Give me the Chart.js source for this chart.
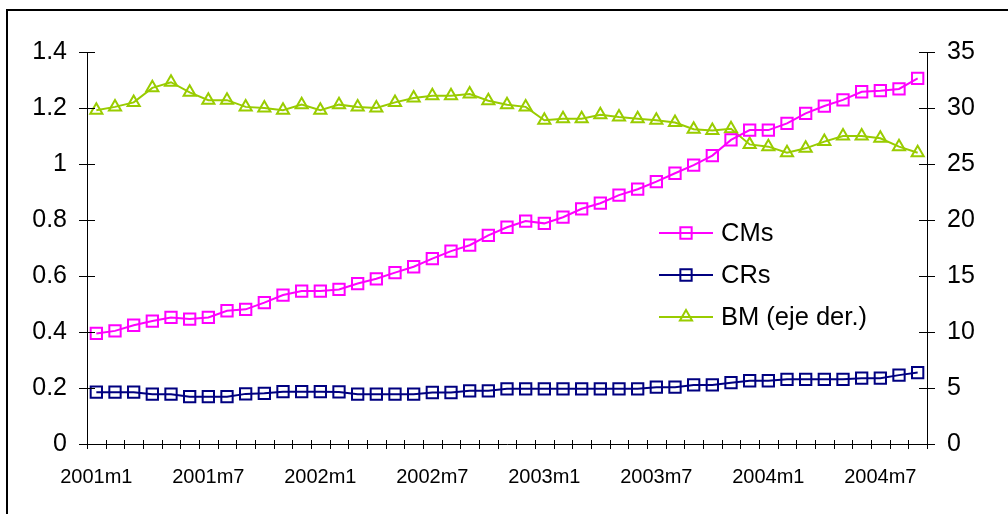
<!DOCTYPE html>
<html>
<head>
  <meta charset="UTF-8" />
  <title>CMs, CRs y BM</title>
  <style>
    html, body { margin: 0; padding: 0; background: #fff; overflow: hidden; }
    #frame { position: absolute; left: 6px; top: 9px; width: 1100px; height: 600px; border: 2px solid #000; }
    #chartBox { position: absolute; left: 0; top: 0; width: 1008px; height: 514px; }
  </style>
</head>
<body>
  <div id="frame"></div>
  <div id="chartBox"><canvas id="mainChart" width="1008" height="514"></canvas></div>
  <script src="https://cdn.jsdelivr.net/npm/chart.js"></script>
  <script>
    const months = [
      '2001m1', '2001m2', '2001m3', '2001m4', '2001m5', '2001m6', '2001m7', '2001m8', '2001m9', '2001m10', '2001m11', '2001m12',
      '2002m1', '2002m2', '2002m3', '2002m4', '2002m5', '2002m6', '2002m7', '2002m8', '2002m9', '2002m10', '2002m11', '2002m12',
      '2003m1', '2003m2', '2003m3', '2003m4', '2003m5', '2003m6', '2003m7', '2003m8', '2003m9', '2003m10', '2003m11', '2003m12',
      '2004m1', '2004m2', '2004m3', '2004m4', '2004m5', '2004m6', '2004m7', '2004m8', '2004m9'
    ];

    // left axis
    const cms = [
      0.395, 0.404, 0.424, 0.439, 0.452, 0.446, 0.452, 0.476, 0.481, 0.505, 0.532, 0.546,
      0.546, 0.552, 0.573, 0.590, 0.612, 0.633, 0.662, 0.689, 0.710, 0.745, 0.774, 0.796,
      0.788, 0.810, 0.840, 0.860, 0.889, 0.910, 0.937, 0.967, 0.996, 1.030, 1.086, 1.121,
      1.121, 1.145, 1.181, 1.207, 1.229, 1.258, 1.262, 1.268, 1.306
    ];
    const crs = [
      0.185, 0.185, 0.185, 0.178, 0.178, 0.169, 0.169, 0.169, 0.179, 0.181, 0.187, 0.187,
      0.187, 0.186, 0.178, 0.178, 0.178, 0.178, 0.184, 0.184, 0.190, 0.190, 0.197, 0.197,
      0.197, 0.197, 0.197, 0.197, 0.197, 0.197, 0.203, 0.203, 0.211, 0.211, 0.219, 0.226,
      0.226, 0.231, 0.231, 0.231, 0.231, 0.235, 0.235, 0.246, 0.255
    ];
    // right axis
    const bm = [
      29.8, 30.1, 30.5, 31.8, 32.3, 31.4, 30.7, 30.7, 30.1, 30.0, 29.8, 30.3,
      29.8, 30.3, 30.1, 30.0, 30.5, 30.9, 31.1, 31.1, 31.25, 30.65, 30.3, 30.1,
      28.9, 29.05, 29.05, 29.4, 29.2, 29.05, 28.9, 28.7, 28.1, 28.0, 28.15, 26.75,
      26.55, 26.0, 26.4, 27.0, 27.5, 27.5, 27.3, 26.55, 26.0
    ];

    const FONT = '"Liberation Sans", Arial, sans-serif';
    Chart.defaults.font.family = FONT;
    Chart.defaults.color = '#000';

    // Excel style tick marks that cross the axis lines
    const crossTicks = {
      id: 'crossTicks',
      afterDraw(chart) {
        const ctx = chart.ctx;
        const xs = chart.scales.x, yl = chart.scales.y, yr = chart.scales.y1;
        ctx.save();
        ctx.strokeStyle = '#000';
        ctx.lineWidth = 1;
        ctx.beginPath();
        yl.ticks.forEach(t => {
          const p = Math.round(yl.getPixelForValue(t.value)) + 0.5;
          ctx.moveTo(yl.right - 8, p); ctx.lineTo(yl.right + 8, p);
        });
        yr.ticks.forEach(t => {
          const p = Math.round(yr.getPixelForValue(t.value)) + 0.5;
          ctx.moveTo(yr.left - 8, p); ctx.lineTo(yr.left + 8, p);
        });
        const half = (xs.getPixelForValue(1) - xs.getPixelForValue(0)) / 2;
        for (let i = 0; i <= months.length; i++) {
          const p = Math.round(xs.getPixelForValue(i) - half) + 0.5;
          ctx.moveTo(p, xs.top - 4); ctx.lineTo(p, xs.top + 5);
        }
        ctx.stroke();
        ctx.restore();
      }
    };

    // legend with line + marker samples
    const lineLegend = {
      id: 'lineLegend',
      afterDraw(chart) {
        const ctx = chart.ctx;
        ctx.save();
        chart.data.datasets.forEach((ds, i) => {
          const y = 233 + i * 42;
          ctx.strokeStyle = ds.borderColor;
          ctx.fillStyle = 'rgba(0,0,0,0)';
          ctx.lineWidth = 2;
          ctx.beginPath();
          ctx.moveTo(659, y); ctx.lineTo(713, y);
          ctx.stroke();
          Chart.helpers.drawPoint(ctx, { pointStyle: ds.pointStyle, radius: ds.pointRadius, rotation: 0, borderWidth: 2 }, 686, y);
          ctx.fillStyle = '#000';
          ctx.font = '25.5px ' + FONT;
          ctx.textBaseline = 'middle';
          ctx.textAlign = 'left';
          ctx.fillText(ds.label, 721, y + 1);
        });
        ctx.restore();
      }
    };

    const axisFont = size => ({ family: FONT, size: size });

    new Chart(document.getElementById('mainChart'), {
      type: 'line',
      data: {
        labels: months,
        datasets: [
          {
            label: 'CMs', data: cms, yAxisID: 'y',
            borderColor: '#FF00FF', borderWidth: 2,
            pointStyle: 'rect', pointRadius: 8, pointBorderWidth: 2,
            pointBackgroundColor: 'rgba(0,0,0,0)', tension: 0
          },
          {
            label: 'CRs', data: crs, yAxisID: 'y',
            borderColor: '#000080', borderWidth: 2,
            pointStyle: 'rect', pointRadius: 8, pointBorderWidth: 2,
            pointBackgroundColor: 'rgba(0,0,0,0)', tension: 0
          },
          {
            label: 'BM (eje der.)', data: bm, yAxisID: 'y1',
            borderColor: '#99CC00', borderWidth: 2,
            pointStyle: 'triangle', pointRadius: 7, pointBorderWidth: 2,
            pointBackgroundColor: 'rgba(0,0,0,0)', tension: 0
          }
        ]
      },
      options: {
        responsive: false,
        animation: false,
        events: [],
        layout: { padding: { top: 52, left: 0, right: 0, bottom: 0 } },
        plugins: { legend: { display: false }, tooltip: { enabled: false } },
        scales: {
          x: {
            type: 'category',
            offset: true,
            grid: { display: false, drawTicks: false },
            border: { display: true, color: '#000', width: 1 },
            ticks: {
              autoSkip: false, maxRotation: 0, minRotation: 0,
              color: '#000', font: axisFont(20), padding: 21,
              callback: (v, i) => (i % 6 === 0 ? months[i] : '')
            },
            afterFit: s => { s.height = 70; }
          },
          y: {
            position: 'left', min: 0, max: 1.4,
            grid: { display: false, drawTicks: false },
            border: { display: true, color: '#000', width: 1 },
            ticks: { stepSize: 0.2, color: '#000', font: axisFont(25), padding: 20, callback: v => +v.toFixed(1) },
            afterFit: s => { s.width = 87; }
          },
          y1: {
            position: 'right', min: 0, max: 35,
            grid: { display: false, drawTicks: false },
            border: { display: true, color: '#000', width: 1 },
            ticks: { stepSize: 5, color: '#000', font: axisFont(25), padding: 20 },
            afterFit: s => { s.width = 81; }
          }
        }
      },
      plugins: [crossTicks, lineLegend]
    });
  </script>
</body>
</html>
